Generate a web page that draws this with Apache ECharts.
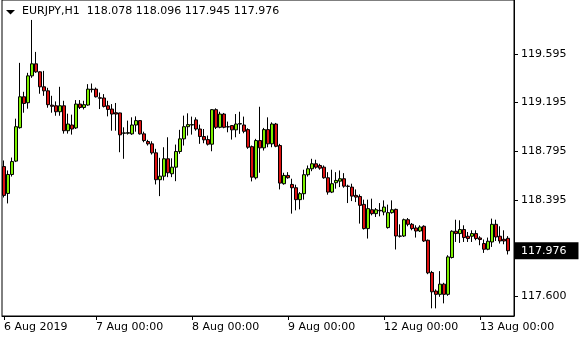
<!DOCTYPE html>
<html><head><meta charset="utf-8">
<script src="https://cdn.jsdelivr.net/npm/echarts@6/dist/echarts.min.js"></script>
<style>html,body{margin:0;padding:0;background:#fff}#c{width:580px;height:340px}</style>
</head><body><div id="c"></div>
<script>
const symbol = 'EURJPY', timeframe = 'H1', year = '2019';
const days = ['6 Aug', '7 Aug', '8 Aug', '9 Aug', '12 Aug', '13 Aug'];
const firstHour = 1, lastHour = 7;

const opens = [118.668,118.447,118.603,118.713,118.988,119.242,119.193,119.414,119.513,119.447,
119.324,119.291,119.173,119.168,119.119,119.168,118.963,119.010,118.986,119.182,
119.154,119.174,119.305,119.305,119.234,119.232,119.168,119.141,119.111,119.109,
118.942,118.942,118.937,119.010,119.046,118.937,118.874,118.855,118.781,118.560,
118.589,118.732,118.609,118.663,118.792,118.896,118.996,119.010,119.052,118.977,
118.915,118.890,118.852,119.136,118.991,119.100,118.996,119.005,118.970,119.018,
119.010,118.972,118.832,118.576,118.882,118.822,118.972,118.855,119.018,118.841,
118.527,118.595,118.521,118.494,118.396,118.445,118.601,118.650,118.691,118.677,
118.663,118.576,118.458,118.535,118.548,118.568,118.507,118.499,118.431,118.422,
118.357,118.158,118.313,118.281,118.308,118.294,118.166,118.289,118.316,118.097,
118.097,118.231,118.193,118.163,118.138,118.177,118.062,117.797,117.644,117.617,
117.701,117.617,117.920,118.136,118.117,118.150,118.095,118.095,118.117,118.081,
118.035,117.988,118.048,118.193,118.095,118.070,118.078];
const highs = [118.718,118.636,118.742,119.062,119.521,119.283,119.439,119.874,119.611,119.451,
119.455,119.316,119.250,119.204,119.324,119.209,119.103,119.095,119.215,119.215,
119.209,119.346,119.351,119.318,119.277,119.264,119.209,119.182,119.191,119.111,
118.991,119.046,119.073,119.081,119.050,118.955,118.888,118.876,118.814,118.740,
118.827,118.909,118.736,118.849,118.970,119.087,119.106,119.079,119.073,119.013,
118.977,118.923,119.141,119.147,119.119,119.109,119.038,119.010,119.100,119.119,
119.079,118.983,118.841,118.896,119.160,118.986,119.073,119.032,119.027,118.855,
118.617,118.622,118.568,118.519,118.458,118.642,118.677,118.732,118.724,118.691,
118.677,118.622,118.642,118.622,118.636,118.614,118.519,118.527,118.480,118.439,
118.396,118.396,118.404,118.327,118.368,118.390,118.355,118.390,118.322,118.193,
118.240,118.245,118.204,118.185,118.185,118.185,118.068,117.810,117.658,117.808,
117.712,117.939,118.144,118.231,118.226,118.185,118.130,118.144,118.144,118.095,
118.068,118.084,118.240,118.231,118.177,118.144,118.096];
const lows = [118.414,118.365,118.586,118.705,118.980,119.111,119.144,119.398,119.439,119.267,
119.250,119.152,119.111,119.086,119.086,118.939,118.939,118.931,118.977,119.141,
119.138,119.168,119.277,119.236,119.141,119.154,119.081,118.963,118.963,118.786,
118.732,118.931,118.929,118.955,118.931,118.868,118.841,118.767,118.521,118.425,
118.554,118.581,118.581,118.548,118.773,118.841,118.923,118.931,118.963,118.855,
118.860,118.841,118.794,118.977,118.983,118.983,118.950,118.890,118.909,118.937,
118.942,118.814,118.546,118.562,118.617,118.800,118.827,118.827,118.827,118.480,
118.519,118.568,118.281,118.308,118.316,118.396,118.586,118.630,118.650,118.642,
118.568,118.437,118.450,118.486,118.499,118.494,118.368,118.384,118.376,118.199,
118.150,118.076,118.267,118.253,118.259,118.267,118.158,118.281,117.986,118.084,
118.089,118.177,118.144,118.084,118.130,118.048,117.783,117.502,117.502,117.597,
117.543,117.605,117.912,118.048,118.040,118.048,118.048,118.048,118.062,118.021,
117.958,117.980,118.007,118.056,118.035,118.029,117.945];
const closes = [118.431,118.603,118.709,118.996,119.242,119.187,119.414,119.513,119.447,119.324,
119.291,119.177,119.164,119.119,119.168,118.963,119.018,118.977,119.182,119.154,
119.177,119.305,119.301,119.242,119.230,119.163,119.138,119.100,119.100,118.929,
118.945,118.947,119.010,119.046,118.937,118.882,118.855,118.781,118.560,118.589,
118.732,118.617,118.663,118.792,118.896,118.996,119.013,119.013,118.977,118.915,
118.888,118.852,119.136,118.991,119.100,118.991,118.994,118.970,119.018,119.021,
118.958,118.827,118.581,118.882,118.822,118.972,118.855,119.018,118.835,118.532,
118.595,118.576,118.494,118.396,118.445,118.601,118.650,118.691,118.663,118.655,
118.576,118.458,118.527,118.554,118.568,118.507,118.505,118.425,118.417,118.349,
118.158,118.322,118.281,118.313,118.304,118.335,118.289,118.313,118.097,118.095,
118.231,118.193,118.158,118.138,118.171,118.056,117.794,117.638,117.617,117.701,
117.617,117.925,118.136,118.117,118.150,118.084,118.076,118.117,118.076,118.068,
117.988,118.054,118.193,118.089,118.056,118.056,117.976];

const yTicks = [117.600, 118.395, 118.795, 119.195, 119.595];
const yMin = 117.439, yMax = 120.038;

const FONT = 'DejaVu Sans';
const cats = [];
days.forEach((d, di) => {
  const h0 = di === 0 ? firstHour : 0;
  const h1 = di === days.length - 1 ? lastHour : 23;
  for (let h = h0; h <= h1; h++) cats.push(d + ' ' + String(h).padStart(2, '0') + ':00');
});
cats.push(''); // empty slot on the right (chart shift)

const candles = opens.map((o, i) => [o, closes[i], lows[i], highs[i]]);
const last = opens.length - 1;
const showIdx = (i) => i === 0 || (cats[i] && cats[i].endsWith(' 00:00'));

const chart = echarts.init(document.getElementById('c'), null, {renderer: 'canvas'});
chart.setOption({
  animation: false,
  backgroundColor: '#fff',
  title: {
    text: symbol + ',' + timeframe + '  ' + [opens[last], highs[last], lows[last], closes[last]].map(v => v.toFixed(3)).join(' '),
    left: 22, top: 6, padding: 0,
    textStyle: {fontFamily: FONT, fontSize: 11, fontWeight: 'normal', color: '#000'}
  },
  graphic: [{type: 'polygon', shape: {points: [[6, 10], [15, 10], [10.5, 14.5]]}, style: {fill: '#000'}}],
  grid: {left: 2, right: 66, top: -1, bottom: 24, show: true, borderColor: '#000', borderWidth: 1, backgroundColor: 'transparent'},
  xAxis: {
    type: 'category', data: cats, boundaryGap: true,
    axisLine: {show: true, lineStyle: {color: '#000', width: 1}},
    axisTick: {show: true, alignWithLabel: true, interval: (i) => showIdx(i), length: 4, lineStyle: {color: '#000'}},
    axisLabel: {
      interval: (i) => showIdx(i),
      formatter: (v, i) => i === 0 ? v.split(' ').slice(0, 2).join(' ') + ' ' + year : v,
      align: 'left', color: '#000', fontFamily: FONT, fontSize: 11, margin: 6
    },
    splitLine: {show: false}
  },
  yAxis: {
    type: 'value', position: 'right', min: yMin, max: yMax, scale: true,
    axisLine: {show: true, lineStyle: {color: '#000', width: 1}},
    axisTick: {show: true, customValues: yTicks, length: 4, lineStyle: {color: '#000'}},
    axisLabel: {customValues: yTicks, formatter: (v) => v.toFixed(3), color: '#000', fontFamily: FONT, fontSize: 11, margin: 7},
    splitLine: {show: false}
  },
  series: [{
    type: 'candlestick', data: candles, barWidth: 3, clip: false,
    itemStyle: {color: '#7CF000', color0: '#DC1010', borderColor: '#000', borderColor0: '#000', borderColorDoji: '#000', borderWidth: 1},
    markLine: {
      silent: true, symbol: ['none', 'none'], animation: false, precision: 3,
      data: [{yAxis: closes[last]}],
      lineStyle: {color: 'rgba(0,0,0,0)', width: 0, type: 'solid'},
      label: {show: true, position: 'end', distance: 0, formatter: () => closes[last].toFixed(3),
        backgroundColor: '#000', color: '#fff', padding: [3, 12, 3, 7], fontFamily: FONT, fontSize: 11}
    }
  }]
});
</script></body></html>
